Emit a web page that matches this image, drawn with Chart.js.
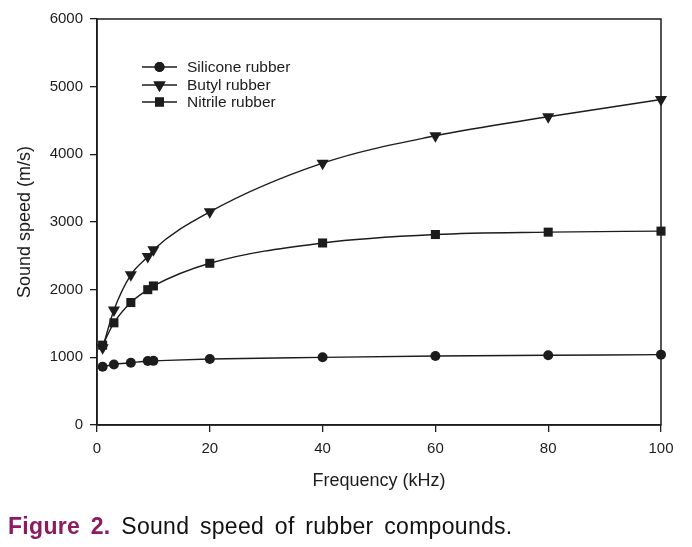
<!DOCTYPE html>
<html>
<head>
<meta charset="utf-8">
<script src="https://cdn.jsdelivr.net/npm/chart.js@4/dist/chart.umd.min.js"></script>
<style>
  html, body { margin: 0; padding: 0; background: #fff; }
  #wrap { position: relative; width: 692px; height: 547px; }
  #c { position: absolute; left: 0; top: 0; }
  #caption {
    position: absolute; left: 8px; top: 513px; white-space: nowrap;
    font-family: "Liberation Sans Narrow", "Arial Narrow", "Liberation Sans", Arial, sans-serif;
    font-size: 23px; color: #111; word-spacing: 4px; letter-spacing: 0.3px;
  }
  #caption b { color: #8B1C62; }
</style>
</head>
<body>
<div id="wrap">
  <canvas id="c" width="692" height="547"></canvas>
  <div id="caption"><b>Figure 2.</b> Sound speed of rubber compounds.</div>
</div>
<script>
const frequency = [1, 3, 6, 9, 10, 20, 40, 60, 80, 100];
const siliconeRubber = [860, 895, 920, 945, 948, 975, 1000, 1020, 1030, 1040];
const butylRubber = [1140, 1700, 2220, 2490, 2590, 3150, 3870, 4275, 4555, 4810];
const nitrileRubber = [1180, 1510, 1810, 2000, 2055, 2390, 2690, 2815, 2850, 2865];
const seriesNames = ["Silicone rubber", "Butyl rubber", "Nitrile rubber"];
const xTicks = [0, 20, 40, 60, 80, 100];
const yTicks = [0, 1000, 2000, 3000, 4000, 5000, 6000];

const ink = '#1c1c1c';
const FONT = '"Liberation Sans", Arial, sans-serif';

function pts(ys) { return frequency.map((x, i) => ({x: x, y: ys[i]})); }

const styles = [
  {pointStyle: 'circle', pointRadius: 5, rotation: 0},
  {pointStyle: 'triangle', pointRadius: 7, rotation: 180},
  {pointStyle: 'rect', pointRadius: 6.4, rotation: 0}
];
const series = [siliconeRubber, butylRubber, nitrileRubber];

const datasets = series.map((s, i) => ({
  label: seriesNames[i],
  data: pts(s),
  borderColor: ink,
  backgroundColor: ink,
  borderWidth: 1.4,
  pointStyle: styles[i].pointStyle,
  pointRadius: styles[i].pointRadius,
  pointRotation: styles[i].rotation,
  pointBackgroundColor: ink,
  pointBorderColor: ink,
  pointBorderWidth: 0,
  cubicInterpolationMode: 'monotone',
  clip: false,
  fill: false
}));

const frameAndLegend = {
  id: 'frameAndLegend',
  beforeDatasetsDraw(chart) {
    const {ctx, chartArea: a} = chart;
    ctx.save();
    ctx.strokeStyle = ink;
    ctx.lineWidth = 1.5;
    ctx.strokeRect(a.left, a.top, a.right - a.left, a.bottom - a.top);
    ctx.restore();
  },
  afterDraw(chart) {
    const {ctx} = chart;
    ctx.save();
    ctx.strokeStyle = ink;
    const rows = [67, 85, 102];
    ctx.font = '15.5px ' + FONT;
    ctx.textBaseline = 'middle';
    ctx.fillStyle = ink;
    chart.data.datasets.forEach((ds, i) => {
      const y = rows[i];
      ctx.beginPath();
      ctx.lineWidth = 1.4;
      ctx.moveTo(142, y); ctx.lineTo(177, y);
      ctx.stroke();
      Chart.helpers.drawPoint(ctx, {pointStyle: ds.pointStyle, radius: ds.pointRadius, rotation: ds.pointRotation, borderWidth: 0}, 159.5, y);
      ctx.fill();
      ctx.fillText(ds.label, 187, y + 0.5);
    });
    ctx.restore();
  }
};

new Chart(document.getElementById('c'), {
  type: 'line',
  data: {datasets: datasets},
  options: {
    responsive: false,
    animation: false,
    layout: {padding: {left: 0, top: 19, right: 31, bottom: 0}},
    plugins: {legend: {display: false}, tooltip: {enabled: false}},
    scales: {
      x: {
        type: 'linear', min: 0, max: 100,
        afterFit(s) { s.height = 122; },
        afterBuildTicks(s) { s.ticks = xTicks.map(v => ({value: v})); },
        grid: {drawOnChartArea: false, drawTicks: true, tickLength: 7, color: ink, lineWidth: 1.3},
        border: {display: true, color: ink, width: 1.5},
        ticks: {color: ink, font: {family: FONT, size: 15}, padding: 8, maxRotation: 0, callback: v => String(v)},
        title: {display: true, text: 'Frequency (kHz)', color: ink, font: {family: FONT, size: 18}, padding: {top: 0, bottom: 55}}
      },
      y: {
        type: 'linear', min: 0, max: 6000,
        afterFit(s) { s.width = 97; },
        afterBuildTicks(s) { s.ticks = yTicks.map(v => ({value: v})); },
        grid: {drawOnChartArea: false, drawTicks: true, tickLength: 7, color: ink, lineWidth: 1.3},
        border: {display: true, color: ink, width: 1.5},
        ticks: {color: ink, font: {family: FONT, size: 15}, padding: 7, callback: v => String(v)},
        title: {display: true, text: 'Sound speed (m/s)', color: ink, font: {family: FONT, size: 18}, padding: {top: 14, bottom: 0}}
      }
    }
  },
  plugins: [frameAndLegend]
});
</script>
</body>
</html>
